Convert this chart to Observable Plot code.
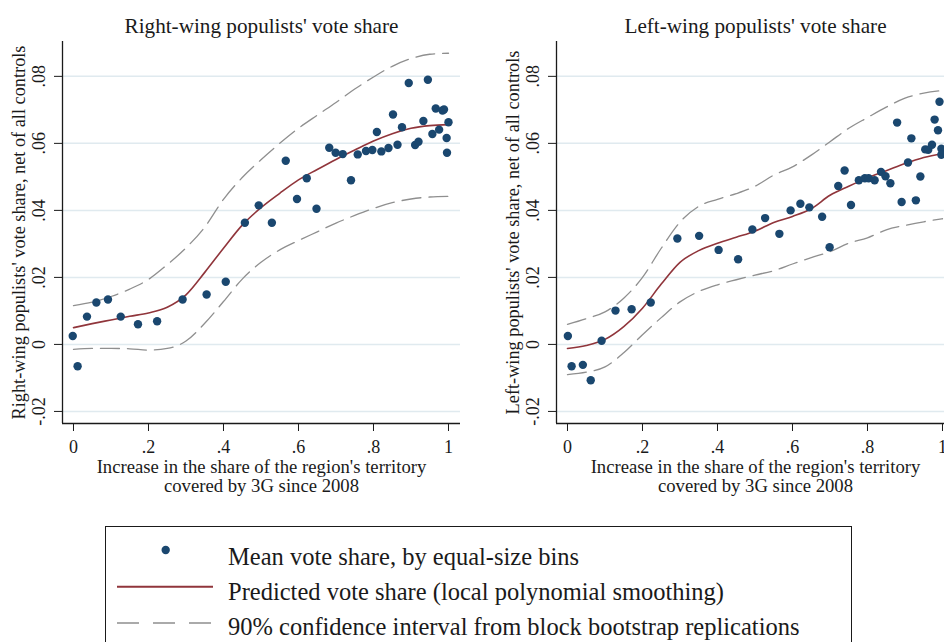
<!DOCTYPE html>
<html>
<head>
<meta charset="utf-8">
<script src="https://cdn.jsdelivr.net/npm/d3@7"></script>
<script src="https://cdn.jsdelivr.net/npm/@observablehq/plot@0.6"></script>
<style>
  html, body { margin: 0; padding: 0; background: #fff; width: 944px; height: 642px; overflow: hidden; }
  #wrap { position: relative; width: 944px; height: 642px; overflow: hidden; font-family: "Liberation Serif", "DejaVu Serif", serif; }
  .panel { position: absolute; top: 0; width: 472px; height: 500px; }
  .panel svg { max-width: none !important; }
  #legend { position: absolute; left: 105px; top: 526px; width: 745px; height: 130px; border: 1px solid #1a1a1a; }
</style>
</head>
<body>
<div id="wrap">
  <div id="p1" class="panel" style="left:0px"></div>
  <div id="p2" class="panel" style="left:494px"></div>
  <div id="legend"></div>
</div>
<script>
// ---------- data ----------
const titles = ["Right-wing populists' vote share", "Left-wing populists' vote share"];
const yLabels = ["Right-wing populists' vote share, net of all controls", "Left-wing populists' vote share, net of all controls"];
const xLabel1 = "Increase in the share of the region's territory";
const xLabel2 = "covered by 3G since 2008";
const xTicks = [0, 0.2, 0.4, 0.6, 0.8, 1];
const yTicks = [-0.02, 0, 0.02, 0.04, 0.06, 0.08];
const legendLabels = [
  "Mean vote share, by equal-size bins",
  "Predicted vote share (local polynomial smoothing)",
  "90% confidence interval from block bootstrap replications"
];

// binned means, right-wing panel
const rwX = [-0.002,0.011,0.036,0.061,0.092,0.126,0.172,0.223,0.291,0.355,0.406,0.457,0.494,0.529,0.566,0.596,0.622,0.648,0.682,0.699,0.718,0.740,0.758,0.780,0.797,0.809,0.821,0.840,0.852,0.864,0.876,0.894,0.911,0.920,0.933,0.945,0.957,0.966,0.975,0.984,0.988,0.995,0.996,1.000];
const rwY = [0.0025,-0.0065,0.0083,0.0125,0.0134,0.0083,0.0060,0.0069,0.0134,0.0149,0.0187,0.0363,0.0415,0.0363,0.0548,0.0434,0.0496,0.0405,0.0587,0.0572,0.0568,0.0490,0.0567,0.0577,0.0580,0.0634,0.0576,0.0586,0.0686,0.0596,0.0648,0.0780,0.0595,0.0605,0.0667,0.0790,0.0628,0.0704,0.0641,0.0698,0.0701,0.0616,0.0572,0.0663];

// binned means, left-wing panel
const lwX = [0.001,0.011,0.041,0.062,0.091,0.128,0.171,0.222,0.293,0.351,0.403,0.455,0.493,0.527,0.565,0.595,0.621,0.645,0.679,0.699,0.722,0.739,0.756,0.777,0.793,0.803,0.819,0.836,0.848,0.861,0.879,0.891,0.908,0.917,0.929,0.941,0.954,0.962,0.972,0.979,0.988,0.992,0.997,0.997];
const lwY = [0.0025,-0.0065,-0.0061,-0.0107,0.0011,0.0101,0.0105,0.0125,0.0316,0.0324,0.0282,0.0254,0.0343,0.0377,0.0330,0.0400,0.0420,0.0409,0.0381,0.0290,0.0473,0.0519,0.0416,0.0490,0.0496,0.0496,0.0490,0.0515,0.0502,0.0481,0.0662,0.0425,0.0543,0.0615,0.0430,0.0501,0.0582,0.0581,0.0596,0.0671,0.0639,0.0724,0.0584,0.0566];

// smoothed fit and 90% bands, read at these x values
const gridX = [0,0.05,0.1,0.15,0.2,0.25,0.3,0.35,0.4,0.45,0.5,0.55,0.6,0.65,0.7,0.75,0.8,0.85,0.9,0.95,1];
const rwFit = [0.0050,0.0062,0.0073,0.0084,0.0094,0.0111,0.0148,0.0215,0.0287,0.0356,0.0408,0.0451,0.0491,0.0522,0.0552,0.0580,0.0607,0.0629,0.0645,0.0653,0.0656];
const rwHi  = [0.0116,0.0126,0.0143,0.0165,0.0194,0.0238,0.0288,0.0350,0.0433,0.0498,0.0551,0.0600,0.0645,0.0684,0.0722,0.0762,0.0798,0.0830,0.0853,0.0866,0.0869];
const rwLo  = [-0.0015,-0.0012,-0.0012,-0.0013,-0.0017,-0.0012,0.0010,0.0063,0.0128,0.0195,0.0245,0.0282,0.0310,0.0336,0.0362,0.0385,0.0406,0.0423,0.0434,0.0440,0.0442];
const lwFit = [-0.0012,-0.0003,0.0015,0.0053,0.0108,0.0180,0.0245,0.0280,0.0302,0.0320,0.0338,0.0364,0.0382,0.0405,0.0445,0.0472,0.0497,0.0518,0.0540,0.0558,0.0570];
const lwHi  = [0.0060,0.0077,0.0097,0.0138,0.0200,0.0287,0.0365,0.0412,0.0433,0.0450,0.0472,0.0505,0.0530,0.0565,0.0605,0.0645,0.0677,0.0708,0.0735,0.0750,0.0758];
const lwLo  = [-0.0090,-0.0083,-0.0067,-0.0025,0.0029,0.0080,0.0127,0.0158,0.0178,0.0193,0.0207,0.0220,0.0240,0.0259,0.0277,0.0302,0.0318,0.0342,0.0355,0.0366,0.0375];

// ---------- styling ----------
const FONT = "'Liberation Serif', 'DejaVu Serif', serif";
const NAVY = "#1a476f", MAROON = "#90353b", GRAY = "#8f8f8f", GRID = "#e0eaef", INK = "#1a1a1a";
const xDomain = [-0.0293, 1.032];
const yDomain = [-0.0236, 0.0904];
const fmt = d => d === 0 ? "0" : d === 1 ? "1" : (d < 0 ? "-" : "") + String(Math.abs(+d.toFixed(2))).replace(/^0/, "");

function panel(title, ylabel, px, py, fit, lo, hi) {
  const pts = px.map((x, i) => ({x, y: py[i]}));
  const mk = arr => gridX.map((x, i) => ({x, y: arr[i]}));
  return Plot.plot({
    width: 472, height: 500,
    marginLeft: 62, marginRight: 12, marginTop: 41, marginBottom: 77,
    x: {domain: xDomain},
    y: {domain: yDomain},
    style: {fontFamily: FONT, fontSize: "18px", color: INK, background: "transparent", overflow: "visible"},
    marks: [
      Plot.gridY(yTicks, {stroke: GRID, strokeOpacity: 1, strokeWidth: 1.5}),
      Plot.ruleX([xDomain[0]], {stroke: INK, strokeWidth: 1.3}),
      Plot.ruleY([yDomain[0]], {stroke: INK, strokeWidth: 1.3}),
      Plot.axisX(xTicks, {tickSize: 8, tickPadding: 9, tickFormat: fmt, label: null, fontSize: 18, stroke: INK}),
      Plot.axisY(yTicks, {tickSize: 8, tickFormat: () => "", label: null, stroke: INK}),
      Plot.text(yTicks, {y: d => d, text: fmt, frameAnchor: "left", textAnchor: "middle", lineAnchor: "middle", dx: -23, rotate: -90, fontSize: 18, fill: INK}),
      Plot.text([ylabel], {text: d => d, frameAnchor: "left", textAnchor: "middle", lineAnchor: "middle", dx: -43, rotate: -90, fontSize: 18.3, fill: INK}),
      Plot.text([title], {text: d => d, frameAnchor: "top", lineAnchor: "middle", dy: -15, fontSize: 21.2, fill: INK}),
      Plot.text([xLabel1], {text: d => d, frameAnchor: "bottom", lineAnchor: "middle", dy: 44, fontSize: 18.7, fill: INK}),
      Plot.text([xLabel2], {text: d => d, frameAnchor: "bottom", lineAnchor: "middle", dy: 62.5, fontSize: 18.7, fill: INK}),
      Plot.line(mk(hi), {x: "x", y: "y", stroke: GRAY, strokeWidth: 1.3, strokeDasharray: "19,8", curve: "monotone-x"}),
      Plot.line(mk(lo), {x: "x", y: "y", stroke: GRAY, strokeWidth: 1.3, strokeDasharray: "19,8", curve: "monotone-x"}),
      Plot.line(mk(fit), {x: "x", y: "y", stroke: MAROON, strokeWidth: 1.6, curve: "monotone-x"}),
      Plot.dot(pts, {x: "x", y: "y", r: 4.2, fill: NAVY, stroke: "none"})
    ]
  });
}

document.getElementById("p1").appendChild(panel(titles[0], yLabels[0], rwX, rwY, rwFit, rwLo, rwHi));
document.getElementById("p2").appendChild(panel(titles[1], yLabels[1], lwX, lwY, lwFit, lwLo, lwHi));

// ---------- legend ----------
const NS = "http://www.w3.org/2000/svg";
const lg = document.createElementNS(NS, "svg");
lg.setAttribute("width", 745); lg.setAttribute("height", 130);
lg.style.display = "block";
function el(tag, attrs) { const e = document.createElementNS(NS, tag); for (const k in attrs) e.setAttribute(k, attrs[k]); lg.appendChild(e); return e; }
el("circle", {cx: 59.7, cy: 23, r: 4.2, fill: NAVY});
el("line", {x1: 11, x2: 107, y1: 59.7, y2: 59.7, stroke: MAROON, "stroke-width": 2});
el("line", {x1: 11, x2: 107, y1: 96, y2: 96, stroke: GRAY, "stroke-width": 1.6, "stroke-dasharray": "22,14"});
const baselines = [38, 73, 108];
legendLabels.forEach((t, i) => {
  const tx = el("text", {x: 122, y: baselines[i], fill: INK, "font-size": 24.5, "font-family": FONT});
  tx.textContent = t;
});
document.getElementById("legend").appendChild(lg);
</script>
</body>
</html>
